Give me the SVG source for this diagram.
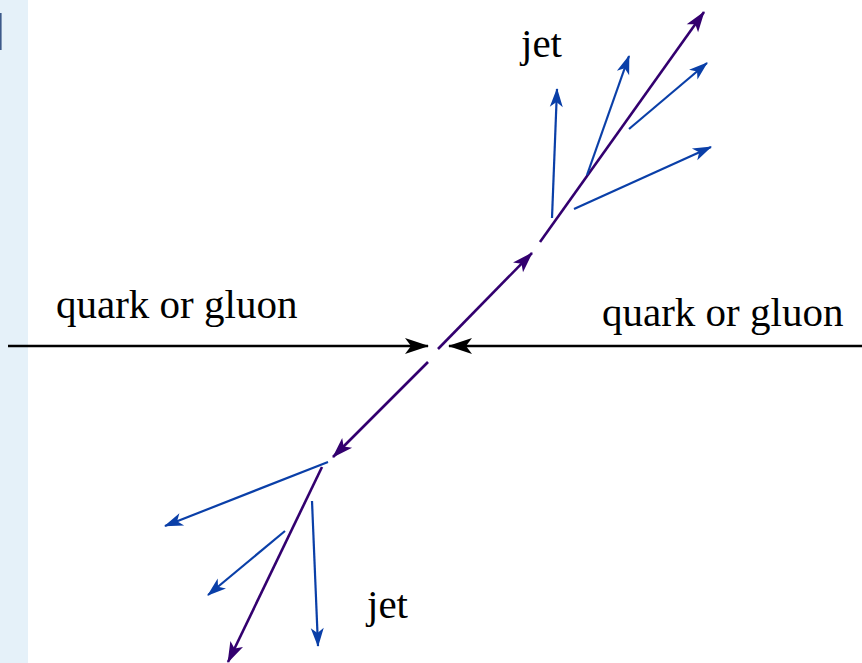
<svg xmlns="http://www.w3.org/2000/svg" width="862" height="663" viewBox="0 0 862 663">
<style>
.lbl{font-family:"Liberation Serif","Times New Roman",serif;font-size:41px;fill:#000}
.blk{stroke:#000;stroke-width:2.5;fill:none}
.pur{stroke:#33006f;stroke-width:2.6;fill:none}
.blu{stroke:#0a3fa8;stroke-width:2.2;fill:none}
</style>
<defs>
<marker id="ahBlk" markerUnits="userSpaceOnUse" markerWidth="24" markerHeight="17" refX="23" refY="8" orient="auto" overflow="visible">
<path d="M24,8 L0,0 L6,8 L0,16 Z" fill="#000"/>
</marker>
<marker id="ahPur" markerUnits="userSpaceOnUse" markerWidth="21" markerHeight="14" refX="20" refY="7" orient="auto" overflow="visible">
<path d="M21,7 L0,0 L5,7 L0,14 Z" fill="#33006f"/>
</marker>
<marker id="ahBlu" markerUnits="userSpaceOnUse" markerWidth="19" markerHeight="13" refX="18" refY="6.5" orient="auto" overflow="visible">
<path d="M19,6.5 L0,0 L5,6.5 L0,13 Z" fill="#0a3fa8"/>
</marker>
</defs>
<rect x="0" y="0" width="862" height="663" fill="#fff"/>
<rect id="sidebar" x="0" y="0" width="28" height="663" fill="#e5f1f9"/>
<rect x="0" y="13" width="1.6" height="37" fill="#3d5a8a"/>
<g id="connectors">
<line class="blk" x1="8" y1="346" x2="428" y2="346" marker-end="url(#ahBlk)"/>
<line class="blk" x1="862" y1="346" x2="449" y2="346" marker-end="url(#ahBlk)"/>
<line class="pur" x1="438" y1="349" x2="532" y2="253" marker-end="url(#ahPur)"/>
<line class="pur" x1="540" y1="242" x2="704" y2="12" marker-end="url(#ahPur)"/>
<line class="pur" x1="428" y1="362" x2="333" y2="457" marker-end="url(#ahPur)"/>
<line class="pur" x1="322" y1="467" x2="228" y2="662" marker-end="url(#ahPur)"/>
<line class="blu" x1="552" y1="218" x2="557" y2="89" marker-end="url(#ahBlu)"/>
<line class="blu" x1="587" y1="175" x2="629" y2="56" marker-end="url(#ahBlu)"/>
<line class="blu" x1="629" y1="129" x2="707" y2="63" marker-end="url(#ahBlu)"/>
<line class="blu" x1="574" y1="209" x2="711" y2="147" marker-end="url(#ahBlu)"/>
<line class="blu" x1="328" y1="462" x2="165" y2="526" marker-end="url(#ahBlu)"/>
<line class="blu" x1="285" y1="531" x2="208" y2="595" marker-end="url(#ahBlu)"/>
<line class="blu" x1="312" y1="501" x2="318" y2="646" marker-end="url(#ahBlu)"/>
</g>
<g id="label-left"><text class="lbl" x="56" y="318">quark or gluon</text></g>
<g id="label-right"><text class="lbl" x="602" y="326">quark or gluon</text></g>
<g id="label-jet-top"><text class="lbl" x="521" y="57">jet</text></g>
<g id="label-jet-bottom"><text class="lbl" x="367" y="618">jet</text></g>
</svg>
